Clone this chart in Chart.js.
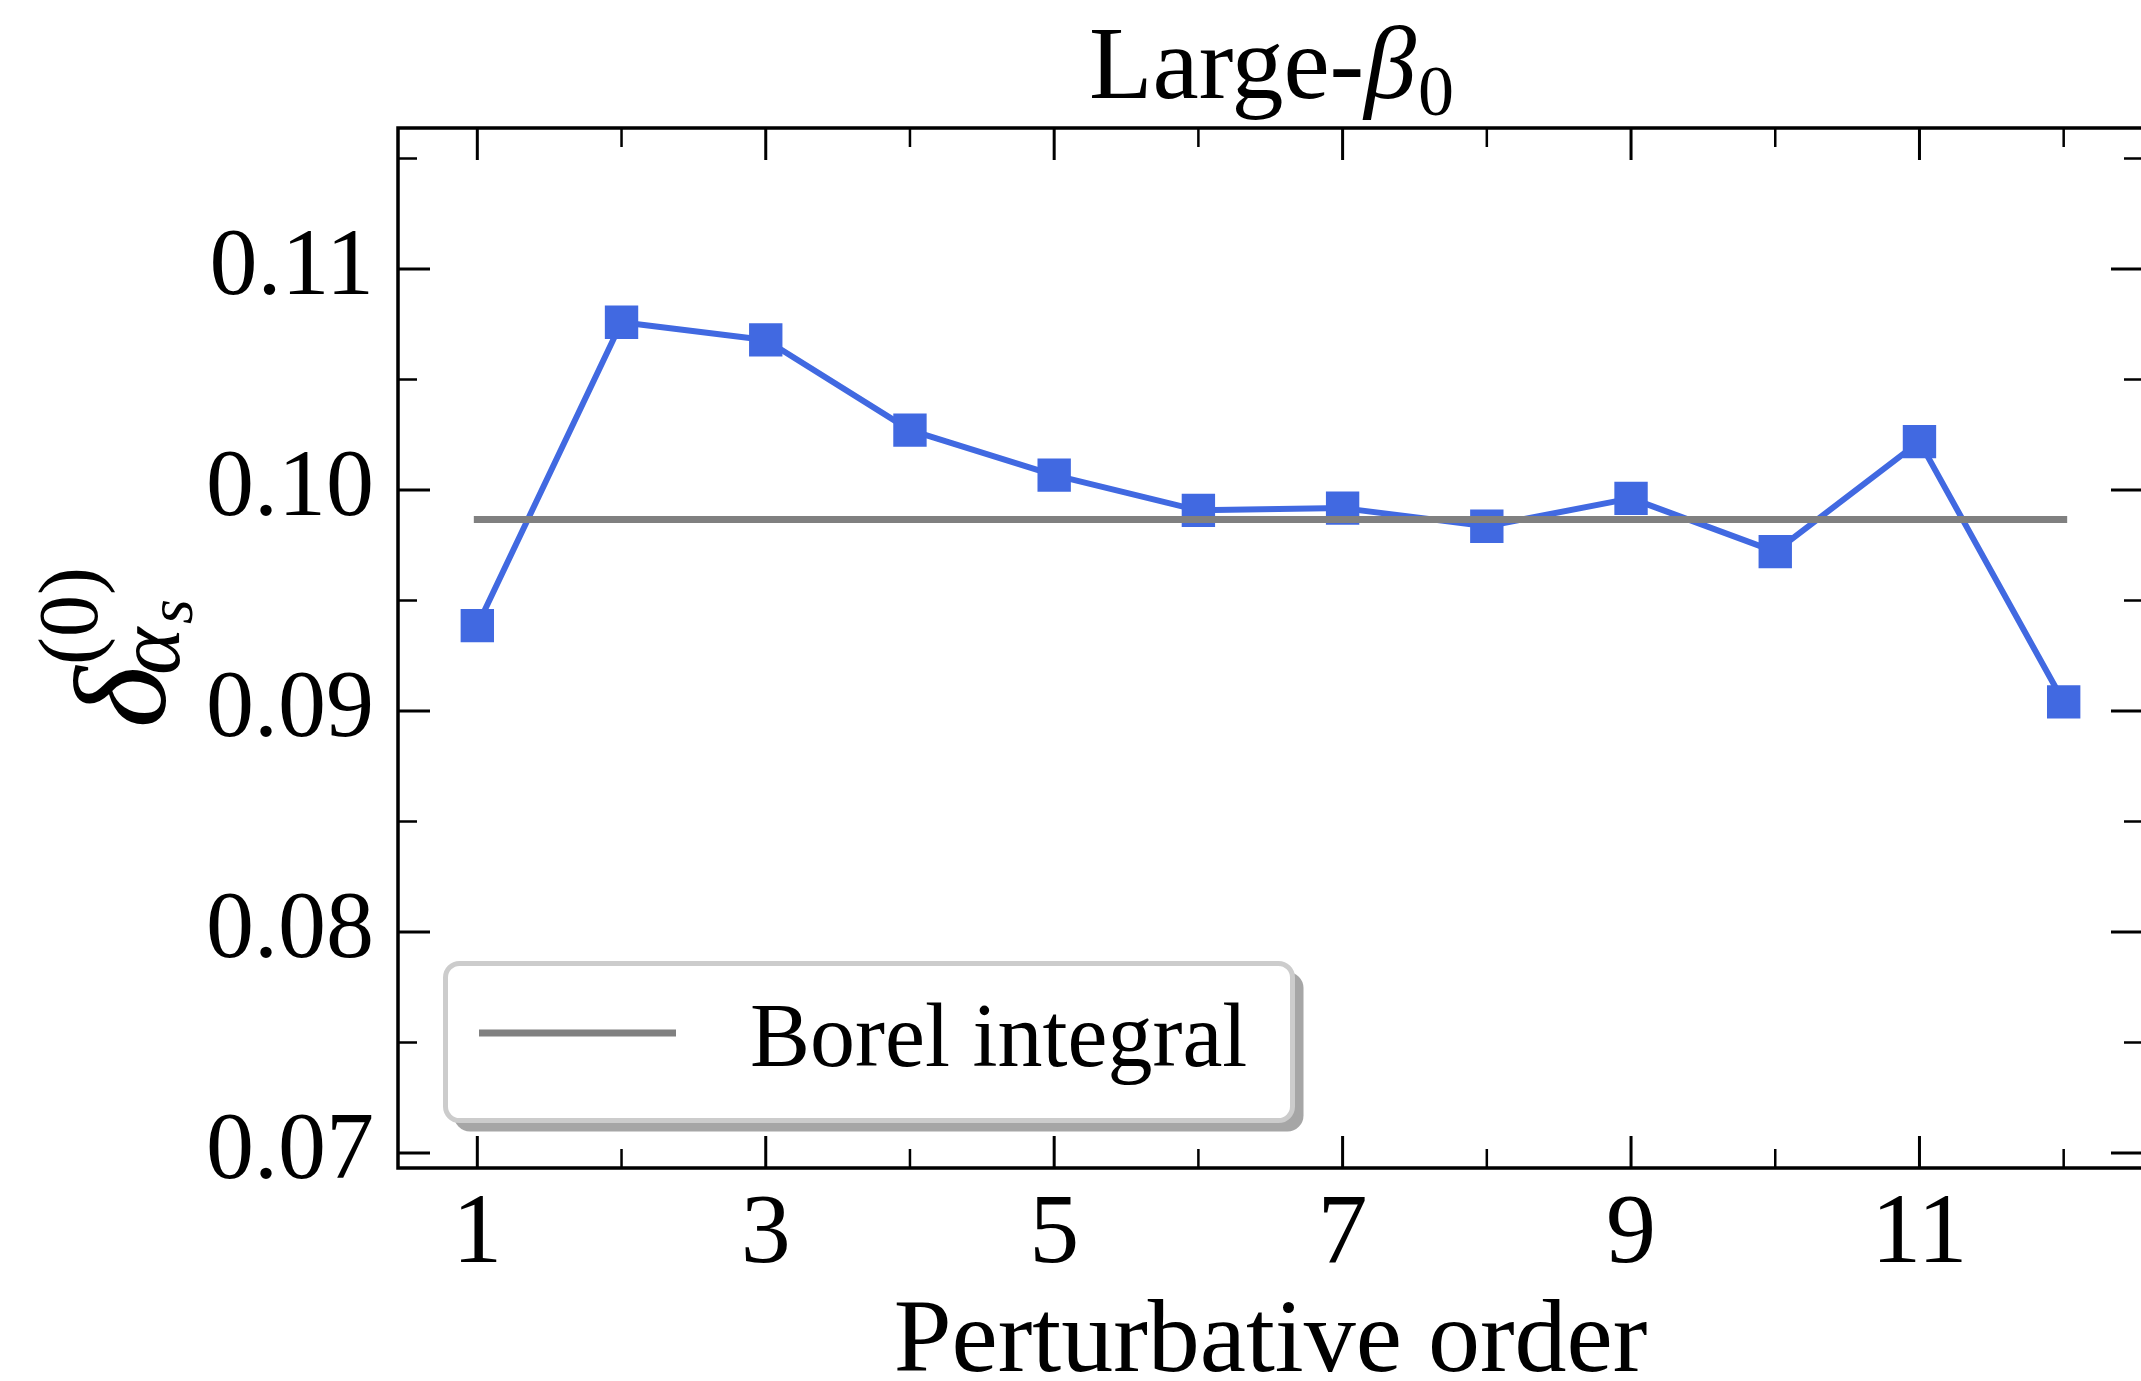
<!DOCTYPE html>
<html>
<head>
<meta charset="utf-8">
<script src="https://cdn.jsdelivr.net/npm/chart.js@4.4.0/dist/chart.umd.min.js"></script>
<style>
    html, body { margin: 0; padding: 0; background: #fff; overflow: hidden; }
    #wrap { width: 2160px; height: 1381px; position: relative; }
    #myChart { display: block; }
</style>
</head>
<body>
<div id="wrap"><canvas id="myChart" width="2160" height="1381"></canvas></div>
<script>
    // values
    var orders = [1, 2, 3, 4, 5, 6, 7, 8, 9, 10, 11, 12];
    var deltaValues = [0.09386, 0.10759, 0.10679, 0.10271, 0.10067, 0.09908, 0.09918, 0.09836, 0.09962, 0.09721, 0.10219, 0.09041];
    var borelValue = 0.098665;
    var legendLabel = 'Borel integral';

    var xMajorTicks = [1, 3, 5, 7, 9, 11];
    var xMinorTicks = [2, 4, 6, 8, 10, 12];
    var yMajorTicks = [0.07, 0.08, 0.09, 0.10, 0.11];
    var yMinorTicks = [0.075, 0.085, 0.095, 0.105, 0.115];
    var yTickLabels = ['0.07', '0.08', '0.09', '0.10', '0.11'];

    var serif = "'Liberation Serif', 'DejaVu Serif', serif";

    var frame = {
        id: 'frame',
        afterDraw: function (chart) {
            var ctx = chart.ctx;
            var a = chart.chartArea;
            var xs = chart.scales.x, ys = chart.scales.y;
            ctx.save();
            ctx.strokeStyle = '#000';

            // inward ticks on all four sides
            function xTick(v, len, lw) {
                var p = xs.getPixelForValue(v);
                ctx.lineWidth = lw;
                ctx.beginPath();
                ctx.moveTo(p, a.bottom); ctx.lineTo(p, a.bottom - len);
                ctx.moveTo(p, a.top); ctx.lineTo(p, a.top + len);
                ctx.stroke();
            }
            function yTick(v, len, lw) {
                var p = ys.getPixelForValue(v);
                ctx.lineWidth = lw;
                ctx.beginPath();
                ctx.moveTo(a.left, p); ctx.lineTo(a.left + len, p);
                ctx.moveTo(a.right, p); ctx.lineTo(a.right - len, p);
                ctx.stroke();
            }
            xMajorTicks.forEach(v => xTick(v, 32, 3));
            xMinorTicks.forEach(v => xTick(v, 19, 2.5));
            yMajorTicks.forEach(v => yTick(v, 32, 3));
            yMinorTicks.forEach(v => yTick(v, 19, 2.5));

            ctx.lineWidth = 3.5;
            ctx.strokeRect(a.left, a.top, a.right - a.left, a.bottom - a.top);

            // legend box with shadow
            var bx = a.left + 47.5, by = a.bottom - 204.5, bw = 847, bh = 157;
            ctx.fillStyle = '#a6a6a6';
            ctx.beginPath();
            ctx.roundRect(bx + 8.5, by + 8.5, bw + 2.5, bh + 2.5, 16);
            ctx.fill();
            ctx.fillStyle = '#fff';
            ctx.beginPath();
            ctx.roundRect(bx, by, bw, bh, 14);
            ctx.fill();
            ctx.strokeStyle = '#cccccc';
            ctx.lineWidth = 5;
            ctx.stroke();
            var borel = chart.data.datasets[0];
            ctx.strokeStyle = borel.borderColor;
            ctx.lineWidth = borel.borderWidth;
            ctx.lineCap = 'butt';
            ctx.beginPath();
            ctx.moveTo(a.left + 81, a.bottom - 135);
            ctx.lineTo(a.left + 278, a.bottom - 135);
            ctx.stroke();
            ctx.fillStyle = '#000';
            ctx.font = '90px ' + serif;
            ctx.textBaseline = 'alphabetic';
            ctx.textAlign = 'left';
            ctx.fillText(borel.label, a.left + 352, a.bottom - 102);

            // title: Large-β0
            var cx = (a.left + a.right) / 2;
            ctx.font = '104px ' + serif;
            var w1 = ctx.measureText('Large-').width;
            ctx.font = 'italic 104px ' + serif;
            var w2 = ctx.measureText('β').width;
            ctx.font = '72px ' + serif;
            var w3 = ctx.measureText('0').width;
            var x0 = cx - (w1 + w2 + w3) / 2;
            ctx.font = '104px ' + serif;
            ctx.fillText('Large-', x0, 98);
            ctx.font = 'italic 104px ' + serif;
            ctx.fillText('β', x0 + w1, 98);
            ctx.font = '72px ' + serif;
            ctx.fillText('0', x0 + w1 + w2 + 2, 115);

            // y label: delta^(0)_{alpha_s}
            var cy = (a.top + a.bottom) / 2;
            ctx.translate(165, cy + 80);
            ctx.rotate(-Math.PI / 2);
            ctx.font = 'italic 132px ' + serif;
            ctx.fillText('δ', 0, 0);
            ctx.font = '84px ' + serif;
            ctx.fillText('(0)', 63, -68);
            ctx.font = 'italic 90px ' + serif;
            ctx.fillText('α', 53, 14);
            ctx.font = 'italic 64px ' + serif;
            ctx.fillText('s', 104, 27);
            ctx.restore();
        }
    };

    var ctx = document.getElementById('myChart');
    var myChart = new Chart(ctx, {
        type: 'line',
        data: {
            datasets: [{
                label: legendLabel,
                data: [{x: orders[0], y: borelValue}, {x: orders[orders.length - 1], y: borelValue}],
                borderColor: '#808080',
                borderWidth: 7,
                borderCapStyle: 'square',
                pointRadius: 0,
                pointHoverRadius: 0
            }, {
                label: 'delta',
                data: orders.map((o, i) => ({x: o, y: deltaValues[i]})),
                borderColor: '#4169E1',
                backgroundColor: '#4169E1',
                borderWidth: 6,
                borderJoinStyle: 'round',
                pointStyle: 'rect',
                pointRadius: 23.6,
                pointHoverRadius: 23.6,
                pointBorderWidth: 0
            }]
        },
        options: {
            responsive: false,
            animation: false,
            devicePixelRatio: 1,
            events: [],
            layout: {autoPadding: false, padding: {left: 0, right: 17, top: 128, bottom: 0}},
            plugins: {legend: {display: false}, tooltip: {enabled: false}},
            scales: {
                x: {
                    type: 'linear',
                    min: 0.45,
                    max: 12.55,
                    afterBuildTicks: function (s) { s.ticks = xMajorTicks.map(v => ({value: v})); },
                    afterFit: function (s) { s.height = 213; },
                    grid: {display: false},
                    border: {display: false},
                    ticks: {
                        padding: 0, color: '#000', maxRotation: 0, autoSkip: false,
                        font: {family: serif, size: 100, lineHeight: 1.2},
                        callback: function (v) { return String(v); }
                    },
                    title: {
                        display: true, text: 'Perturbative order', color: '#000', padding: 0,
                        font: {family: serif, size: 104, lineHeight: 0.72}
                    }
                },
                y: {
                    type: 'linear',
                    min: 0.06932,
                    max: 0.11638,
                    afterBuildTicks: function (s) { s.ticks = yMajorTicks.map(v => ({value: v})); },
                    afterFit: function (s) { s.width = 398; },
                    grid: {display: false},
                    border: {display: false},
                    ticks: {
                        padding: 16, color: '#000',
                        font: {family: serif, size: 96, lineHeight: 1.2},
                        callback: function (v, i) { return yTickLabels[i]; }
                    }
                }
            }
        },
        plugins: [frame]
    });
</script>
</body>
</html>
